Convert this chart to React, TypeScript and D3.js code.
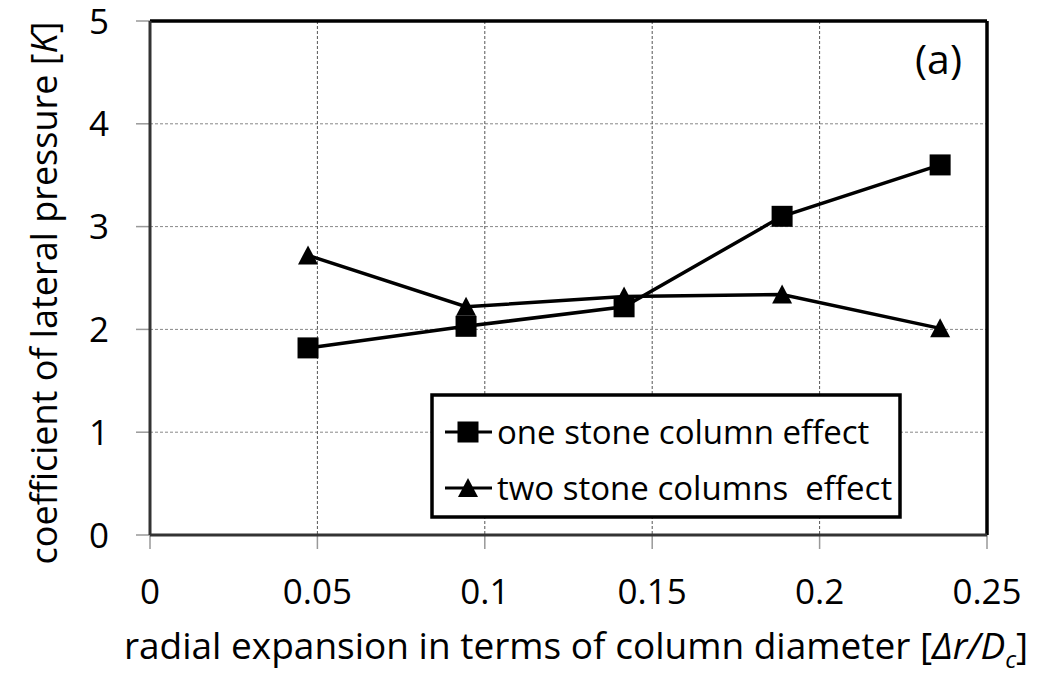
import React from "react";
import * as d3 from "d3";

const xValues = [0.0472, 0.0944, 0.1416, 0.1888, 0.236];
const oneColumn = [1.82, 2.03, 2.22, 3.1, 3.6];
const twoColumns = [2.72, 2.22, 2.32, 2.34, 2.01];
const xTicks = [0, 0.05, 0.1, 0.15, 0.2, 0.25];
const xTickLabels = ["0", "0.05", "0.1", "0.15", "0.2", "0.25"];
const yTicks = [0, 1, 2, 3, 4, 5];
const seriesNames = ["one stone column effect", "two stone columns\u00a0 effect"];

const W = 1040;
const H = 675;
const M = { left: 150, top: 21, right: 987, bottom: 535 };
const FONT = "'Open Sans', 'Liberation Sans', sans-serif";

export default function App() {
  const x = d3.scaleLinear().domain([0, 0.25]).range([M.left, M.right]);
  const y = d3.scaleLinear().domain([0, 5]).range([M.bottom, M.top]);
  const line = d3
    .line<number>()
    .x((_, i) => x(xValues[i]))
    .y((d) => y(d));
  const sq = 21;
  const tri = (cx: number, cy: number, s = 20) => {
    const h = s * 0.9;
    return `M${cx},${cy - h / 2 - 1} L${cx + s / 2},${cy + h / 2} L${cx - s / 2},${cy + h / 2} Z`;
  };

  const legX = 432, legY = 395, legW = 468, legH = 122;

  return (
    <svg
      width={W}
      height={H}
      style={{ position: "absolute", left: 0, top: 0, background: "#fff" }}
      fontFamily={FONT}
    >
      <rect x={0} y={0} width={W} height={H} fill="#fff" />
      {/* grid */}
      {yTicks.slice(1, -1).map((t) => (
        <line key={"gy" + t} x1={M.left} x2={M.right} y1={y(t)} y2={y(t)} stroke="#888" strokeWidth={1} strokeDasharray="3,2" />
      ))}
      {xTicks.slice(1, -1).map((t) => (
        <line key={"gx" + t} x1={x(t)} x2={x(t)} y1={M.top} y2={M.bottom} stroke="#555" strokeWidth={1} strokeDasharray="3,2" />
      ))}
      {/* ticks */}
      {yTicks.map((t) => (
        <line key={"ty" + t} x1={M.left - 14} x2={M.left} y1={y(t)} y2={y(t)} stroke="#999" strokeWidth={1.5} />
      ))}
      {xTicks.map((t) => (
        <line key={"tx" + t} x1={x(t)} x2={x(t)} y1={M.bottom} y2={M.bottom + 14} stroke="#999" strokeWidth={1.5} />
      ))}
      {/* frame */}
      <line x1={M.left} x2={M.right} y1={M.top} y2={M.top} stroke="#000" strokeWidth={3.5} />
      <line x1={M.right} x2={M.right} y1={M.top} y2={M.bottom} stroke="#000" strokeWidth={3.5} />
      <line x1={M.left} x2={M.left} y1={M.top} y2={M.bottom} stroke="#333" strokeWidth={3} />
      <line x1={M.left} x2={M.right} y1={M.bottom} y2={M.bottom} stroke="#333" strokeWidth={3} />
      {/* tick labels */}
      {yTicks.map((t) => (
        <text key={"ly" + t} x={109} y={y(t)} dy="0.36em" textAnchor="end" fontSize={35} fill="#000">
          {t}
        </text>
      ))}
      {xTicks.map((t, i) => (
        <text key={"lx" + t} x={x(t)} y={604} textAnchor="middle" fontSize={35} fill="#000">
          {xTickLabels[i]}
        </text>
      ))}
      {/* axis titles */}
      <text x={576} y={659} textAnchor="middle" fontSize={37} fill="#000">
        radial expansion in terms of column diameter [<tspan fontStyle="italic">Δr/D</tspan>
        <tspan fontStyle="italic" fontSize={24} dy={9}>c</tspan>
        <tspan dy={-9}>]</tspan>
      </text>
      <text transform={`translate(57,293) rotate(-90)`} textAnchor="middle" fontSize={36} fill="#000">
        coefficient of lateral pressure [<tspan fontStyle="italic">K</tspan>]
      </text>
      {/* series lines */}
      <path d={line(oneColumn) || ""} fill="none" stroke="#000" strokeWidth={3.5} />
      <path d={line(twoColumns) || ""} fill="none" stroke="#000" strokeWidth={3.5} />
      {oneColumn.map((v, i) => (
        <rect key={"s" + i} x={x(xValues[i]) - sq / 2} y={y(v) - sq / 2} width={sq} height={sq} fill="#000" />
      ))}
      {twoColumns.map((v, i) => (
        <path key={"t" + i} d={tri(x(xValues[i]), y(v))} fill="#000" />
      ))}
      {/* panel label */}
      <text x={962} y={74} textAnchor="end" fontSize={41} fill="#000">(a)</text>
      {/* legend */}
      <rect x={legX} y={legY} width={legW} height={legH} fill="#fff" stroke="#000" strokeWidth={3.5} />
      <line x1={445} x2={492} y1={432} y2={432} stroke="#000" strokeWidth={3} />
      <rect x={468 - sq / 2} y={432 - sq / 2} width={sq} height={sq} fill="#000" />
      <text x={497} y={432} dy="0.36em" fontSize={33} fill="#000">{seriesNames[0]}</text>
      <line x1={445} x2={492} y1={488} y2={488} stroke="#000" strokeWidth={3} />
      <path d={tri(468, 488)} fill="#000" />
      <text x={497} y={488} dy="0.36em" fontSize={33} fill="#000">{seriesNames[1]}</text>
    </svg>
  );
}
